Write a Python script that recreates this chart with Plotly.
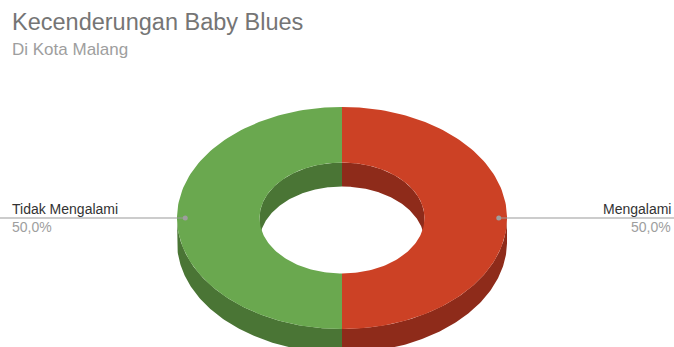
import numpy as np
import plotly.graph_objects as go

title = "Kecenderungan Baby Blues"
subtitle = "Di Kota Malang"
labels = ["Mengalami", "Tidak Mengalami"]
values = [50, 50]
top_colors = ["#cc4125", "#6aa84f"]
side_colors = ["#8e2b1a", "#4a7535"]

W, H = 674, 347
cx, cy, rx, ry = 342, 218, 165, 111
hole = 0.5
depth = 24

def pt(theta_deg, r, yoff=0.0):
    t = np.radians(theta_deg)
    return cx + r * rx * np.sin(t), cy - r * ry * np.cos(t) + yoff

def arc(a, b, r, yoff=0.0, n=120):
    th = np.linspace(a, b, n)
    x, y = pt(th, r, yoff)
    return list(x), list(y)

total = sum(values)
angles = []
acc = 0.0
for v in values:
    a = acc / total * 360
    acc += v
    b = acc / total * 360
    angles.append((a, b))

fig = go.Figure()

def clip(a, b, lo, hi):
    s, e = max(a, lo), min(b, hi)
    return (s, e) if e > s else None

# inner walls (back half of hole)
for (a, b), col in zip(angles, side_colors):
    for lo, hi in [(-90, 90), (270, 450)]:
        seg = clip(a, b, lo, hi)
        if seg is None:
            continue
        s, e = seg
        x1, y1 = arc(s, e, hole)
        x2, y2 = arc(e, s, hole, depth)
        fig.add_trace(go.Scatter(x=x1 + x2, y=y1 + y2, fill="toself", fillcolor=col,
                                 line=dict(width=0), mode="lines", hoverinfo="skip"))

# outer walls (front half)
for (a, b), col in zip(angles, side_colors):
    seg = clip(a, b, 90, 270)
    if seg is None:
        continue
    s, e = seg
    x1, y1 = arc(s, e, 1.0)
    x2, y2 = arc(e, s, 1.0, depth)
    fig.add_trace(go.Scatter(x=x1 + x2, y=y1 + y2, fill="toself", fillcolor=col,
                             line=dict(width=0), mode="lines", hoverinfo="skip"))

# top faces
for (a, b), col in zip(angles, top_colors):
    x1, y1 = arc(a, b, 1.0)
    x2, y2 = arc(b, a, hole)
    fig.add_trace(go.Scatter(x=x1 + x2, y=y1 + y2, fill="toself", fillcolor=col,
                             line=dict(width=0), mode="lines", hoverinfo="skip"))

FONT = "Arial, Liberation Sans"
# leader lines and labels
for (a, b), lab, v in zip(angles, labels, values):
    m = (a + b) / 2
    dx, dy = pt(m, 0.95)
    right = np.sin(np.radians(m)) > 0
    ex = W if right else 0
    fig.add_trace(go.Scatter(x=[dx, ex], y=[dy, dy], mode="lines",
                             line=dict(color="#999999", width=1), hoverinfo="skip"))
    fig.add_trace(go.Scatter(x=[dx], y=[dy], mode="markers",
                             marker=dict(color="#9e9e9e", size=5), hoverinfo="skip"))
    tx = W - 1 if right else 10
    xa = "right" if right else "left"
    pct = f"{v / total * 100:.1f}%".replace(".", ",")
    fig.add_annotation(x=tx, y=dy - 9, text=lab, showarrow=False, xanchor=xa, yanchor="middle",
                       font=dict(family=FONT, size=14, color="#333333"))
    fig.add_annotation(x=tx, y=dy + 9, text=pct, showarrow=False, xanchor=xa, yanchor="middle",
                       font=dict(family=FONT, size=14, color="#9e9e9e"))

fig.add_annotation(x=10, y=22, text=title, showarrow=False, xanchor="left", yanchor="middle",
                   font=dict(family=FONT, size=23.5, color="#757575"))
fig.add_annotation(x=10, y=49, text=subtitle, showarrow=False, xanchor="left", yanchor="middle",
                   font=dict(family=FONT, size=17, color="#9e9e9e"))

fig.update_layout(width=W, height=H, margin=dict(l=0, r=0, t=0, b=0),
                  paper_bgcolor="white", plot_bgcolor="white", showlegend=False,
                  xaxis=dict(range=[0, W], visible=False, fixedrange=True),
                  yaxis=dict(range=[H, 0], visible=False, fixedrange=True))
fig.write_html("out.html", config={"displayModeBar": False},
               post_script="document.body.style.margin='0';")
